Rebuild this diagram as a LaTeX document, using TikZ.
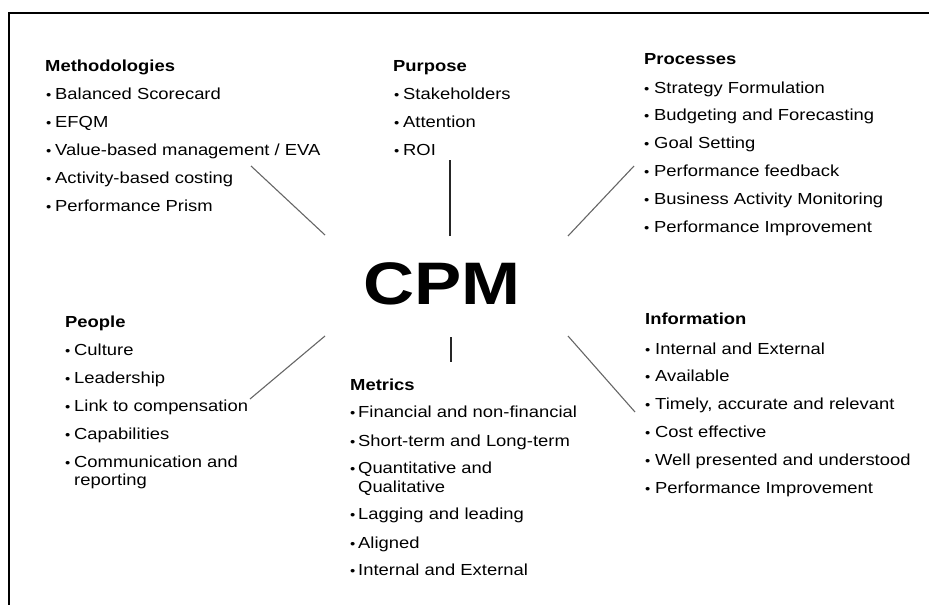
\documentclass[tikz,border=0pt]{standalone}
\usepackage{fontspec}
\setmainfont{Liberation Sans}[FakeStretch=1.15]
\newfontfamily\cpmfont{Liberation Sans}[FakeStretch=1.18]
\begin{document}
\begin{tikzpicture}[x=1pt,y=-1pt,
  hd/.style={anchor=base west, inner sep=0pt, font=\fontsize{16}{18}\selectfont\bfseries},
  it/.style={anchor=base west, inner sep=0pt, font=\fontsize{16}{18}\selectfont},
  bl/.style={anchor=base west, inner sep=0pt, font=\fontsize{13}{14}\selectfont},
  link/.style={draw=black!60, line width=1.1pt},
  vlink/.style={draw=black!85, line width=1.3pt},
  frame/.style={draw=black, line width=2.2pt}]
\useasboundingbox (0,0) rectangle (929,605);
% frame (top and left edges only)
\coordinate (fa) at (929,13);
\coordinate (fb) at (9,13);
\coordinate (fc) at (9,605);
\draw[frame] (fa) -- (fb) -- (fc);

% centre
\node[anchor=base, inner sep=0pt, font=\cpmfont\fontsize{60}{60}\selectfont\bfseries] (cpm) at (442,304) {CPM};

% Methodologies
\node[hd] (mh) at (45,71) {Methodologies};
\foreach \t [count=\i] in {Balanced Scorecard, EFQM, Value-based management / EVA, Activity-based costing, Performance Prism}{
  \node[bl] (mb\i) at (46,{99+28*(\i-1)}) {•};
  \node[it] (m\i) at (55,{99+28*(\i-1)}) {\t};
}

% Purpose
\node[hd] (ph) at (393,71) {Purpose};
\foreach \t [count=\i] in {Stakeholders, Attention, ROI}{
  \node[bl] (pb\i) at (394,{99+28*(\i-1)}) {•};
  \node[it] (p\i) at (403,{99+28*(\i-1)}) {\t};
}

% Processes
\node[hd] (rh) at (644,64) {Processes};
\foreach \t [count=\i] in {Strategy Formulation, Budgeting and Forecasting, Goal Setting, Performance feedback, Business Activity Monitoring, Performance Improvement}{
  \node[bl] (rb\i) at (644,{93+27.8*(\i-1)}) {•};
  \node[it] (r\i) at (654,{93+27.8*(\i-1)}) {\t};
}

% People
\node[hd] (eh) at (65,327) {People};
\foreach \t [count=\i] in {Culture, Leadership, Link to compensation, Capabilities, Communication and}{
  \node[bl] (eb\i) at (65,{355+28*(\i-1)}) {•};
  \node[it] (e\i) at (74,{355+28*(\i-1)}) {\t};
}
\node[it] (e5b) at (74,485) {reporting};

% Metrics
\node[hd] (th) at (350,390) {Metrics};
\foreach \t/\y [count=\i] in {Financial and non-financial/417, Short-term and Long-term/446, Quantitative and/473, Lagging and leading/519, Aligned/548, Internal and External/575}{
  \node[bl] (tb\i) at (350,\y) {•};
  \node[it] (t\i) at (358,\y) {\t};
}
\node[it] (t3b) at (358,492) {Qualitative};

% Information
\node[hd] (ih) at (645,324) {Information};
\foreach \t [count=\i] in {Internal and External, Available, {Timely, accurate and relevant}, Cost effective, Well presented and understood, Performance Improvement}{
  \node[bl] (ib\i) at (645,{354+27.8*(\i-1)}) {•};
  \node[it] (i\i) at (655,{354+27.8*(\i-1)}) {\t};
}

% connectors
\coordinate (c1a) at (325,235); \coordinate (c1b) at (251,166);
\coordinate (c2a) at (450,236); \coordinate (c2b) at (450,160);
\coordinate (c3a) at (568,236); \coordinate (c3b) at (634,166);
\coordinate (c4a) at (325,336); \coordinate (c4b) at (250,399);
\coordinate (c5a) at (451,337); \coordinate (c5b) at (451,362);
\coordinate (c6a) at (568,336); \coordinate (c6b) at (635,412);
\draw[link] (c1a) -- (c1b);
\draw[vlink] (c2a) -- (c2b);
\draw[link] (c3a) -- (c3b);
\draw[link] (c4a) -- (c4b);
\draw[vlink] (c5a) -- (c5b);
\draw[link] (c6a) -- (c6b);
\end{tikzpicture}
\end{document}
